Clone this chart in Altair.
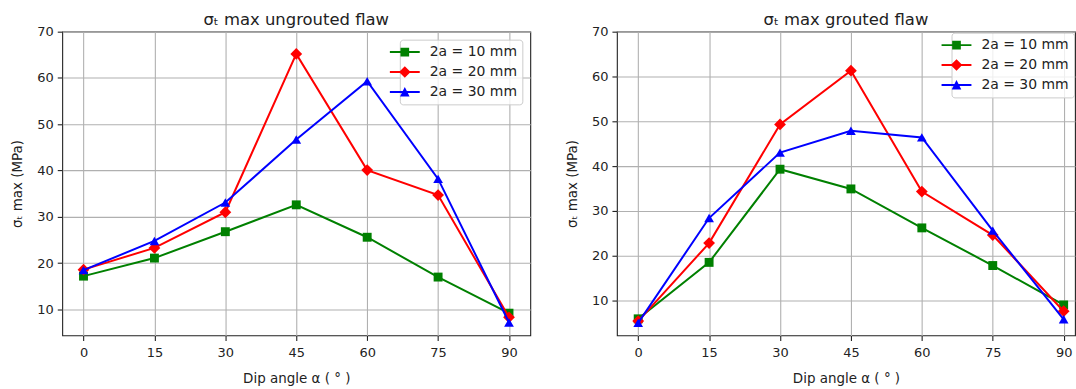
import altair as alt
import pandas as pd

# ---- data ----
angles = [0, 15, 30, 45, 60, 75, 90]
series = ["2a = 10 mm", "2a = 20 mm", "2a = 30 mm"]
colors = ["#008000", "#ff0000", "#0000ff"]

ungrouted_10 = [17.2, 21.1, 26.8, 32.6, 25.6, 17.0, 9.2]
ungrouted_20 = [18.6, 23.3, 31.0, 65.2, 40.1, 34.7, 8.3]
ungrouted_30 = [18.5, 24.8, 33.1, 46.7, 59.3, 38.2, 7.2]

grouted_10 = [5.9, 18.5, 39.3, 34.9, 26.2, 17.8, 9.0]
grouted_20 = [5.4, 22.8, 49.3, 61.3, 34.3, 24.6, 7.6]
grouted_30 = [5.0, 28.4, 43.0, 47.9, 46.4, 25.6, 5.8]

y_ticks = [10, 20, 30, 40, 50, 60, 70]

# ---- styling ----
FONT = "DejaVu Sans"
TXT = "#222222"
marker_shapes = ["square", "diamond", "triangle-up"]
marker_sizes = [80, 140, 95]
# legend glyphs: line segment with marker (unit = sqrt(size)/2)
legend_paths = [
    "M-3,-0.13H1V0.13H-3Z M-1.58,-0.58H-0.42V0.58H-1.58Z",
    "M-3,-0.13H1V0.13H-3Z M-1,-0.78L-0.22,0L-1,0.78L-1.78,0Z",
    "M-3,-0.13H1V0.13H-3Z M-1,-0.66L-0.36,0.6L-1.64,0.6Z",
]


def make_df(v10, v20, v30):
    rows = []
    for name, vals in zip(series, [v10, v20, v30]):
        for a, v in zip(angles, vals):
            rows.append({"angle": a, "value": v, "series": name})
    return pd.DataFrame(rows)


def panel(df, title, ymin, width, xmax, leg_offset):
    x = alt.X(
        "angle:Q",
        scale=alt.Scale(domain=[-4.5, xmax], nice=False, zero=False),
        axis=alt.Axis(values=angles, title="Dip angle α ( ° )",
                      labelPadding=6, titlePadding=12),
    )
    y = alt.Y(
        "value:Q",
        scale=alt.Scale(domain=[ymin, 70], nice=False, zero=False),
        axis=alt.Axis(values=y_ticks, title="σₜ max (MPa)", titlePadding=12),
    )
    cscale = alt.Scale(domain=series, range=colors)
    leg = alt.Legend(
        title=None,
        orient="top-right",
        offset=leg_offset,
        padding=5,
        fillColor="rgba(255,255,255,0.8)",
        strokeColor="#cccccc",
        cornerRadius=3,
        labelFont=FONT,
        labelFontSize=14,
        labelColor=TXT,
        labelOffset=10,
        symbolSize=225,
        symbolStrokeWidth=0,
        symbolOpacity=1,
        rowPadding=5,
    )
    # invisible layer first: it carries the legend (line + marker glyphs)
    ghost = alt.Chart(df).mark_point(filled=True, opacity=0).encode(
        x=x,
        y=y,
        color=alt.Color("series:N", scale=cscale, legend=leg),
        shape=alt.Shape(
            "series:N", scale=alt.Scale(domain=series, range=legend_paths), legend=leg
        ),
    )
    layers = [ghost]
    for s, shp, sz in zip(series, marker_shapes, marker_sizes):
        base = alt.Chart(df).transform_filter(alt.datum.series == s)
        layers.append(
            base.mark_line(strokeWidth=2).encode(
                x=x, y=y, color=alt.Color("series:N", scale=cscale, legend=None)
            )
        )
        layers.append(
            base.mark_point(shape=shp, size=sz, filled=True, opacity=1).encode(
                x=x, y=y, color=alt.Color("series:N", scale=cscale, legend=None)
            )
        )
    return alt.layer(*layers).properties(
        width=width,
        height=305,
        title=alt.TitleParams(
            text=title,
            font=FONT,
            fontSize=16.5,
            fontWeight="normal",
            color=TXT,
            offset=-3,
            anchor="middle",
        ),
    )


left = panel(make_df(ungrouted_10, ungrouted_20, ungrouted_30),
             "σₜ max ungrouted flaw", 4.4, 470, 94.5, 8)
# right panel runs off the edge of the picture in the reference: same scale, cut short
right = panel(make_df(grouted_10, grouted_20, grouted_30),
              "σₜ max grouted flaw", 2.2, 460, 92.4, 1)

chart = (
    alt.hconcat(left, right, spacing=33)
    .resolve_scale(color="independent", shape="independent")
    .resolve_legend(color="independent", shape="independent")
    .properties(padding={"left": 9.5, "top": 10, "right": 0, "bottom": 0})
    .configure_view(stroke=TXT, strokeWidth=1.1)
    .configure_axis(
        labelFont=FONT,
        labelFontSize=13,
        labelColor=TXT,
        labelPadding=4,
        titleFont=FONT,
        titleFontSize=13.5,
        titleFontWeight="normal",
        titleColor=TXT,
        grid=True,
        gridColor="#b0b0b0",
        gridWidth=1.1,
        domain=False,
        tickColor=TXT,
        tickSize=5,
        tickWidth=1.1,
    )
)

chart.save("out.html", embed_options={"renderer": "svg", "actions": False})
